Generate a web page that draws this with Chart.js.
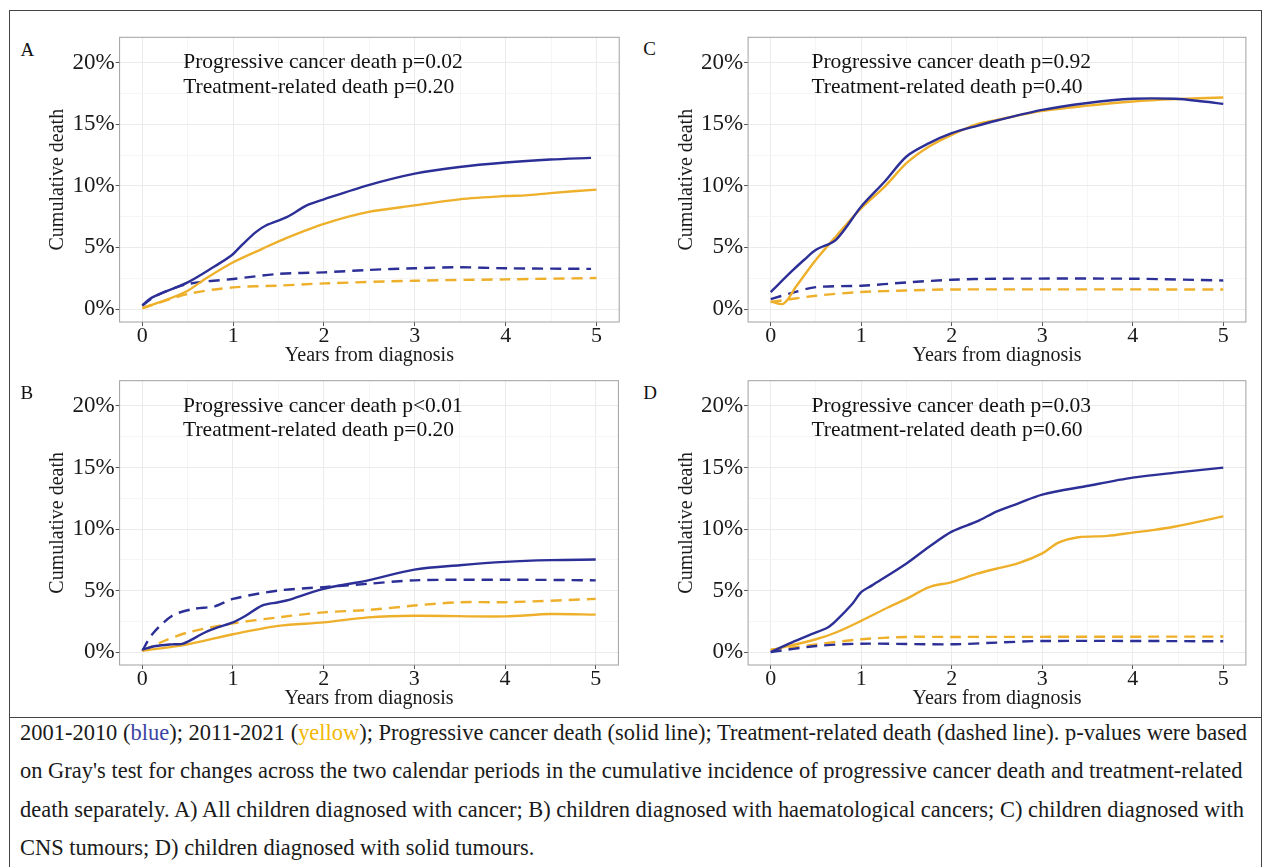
<!DOCTYPE html>
<html>
<head>
<meta charset="utf-8">
<script src="https://cdn.jsdelivr.net/npm/chart.js@4.4.1/dist/chart.umd.min.js"></script>
<style>
  body { margin: 0; background: #fff; width: 1262px; height: 867px; overflow: hidden; position: relative;
         font-family: "Liberation Serif", "Times New Roman", serif; }
  .frame { position: absolute; left: 9px; top: 10px; width: 1253px; height: 900px; border: 1px solid #444; box-sizing: border-box; }
  .sep { position: absolute; left: 9px; top: 717px; width: 1253px; height: 1px; background: #444; }
  .letter { position: absolute; font-size: 19px; line-height: 1; color: #111; }
  .cap { position: absolute; left: 20px; white-space: nowrap; color: #1a1a1a; line-height: 1; }
  canvas { position: absolute; }
</style>
</head>
<body>
<div class="frame"></div>
<div class="sep"></div>
<div id="caption"></div>
<script>
// x / y tick positions (major + ggplot-style minor)
const xTicks = [0, 0.5, 1, 1.5, 2, 2.5, 3, 3.5, 4, 4.5, 5];
const yTicks = [0, 2.5, 5, 7.5, 10, 12.5, 15, 17.5, 20];

// A) all children
const aBlueSolid = [[0,0.3],[0.11,0.95],[0.5,2.17],[0.78,3.39],[0.98,4.34],[1.09,5.15],[1.25,6.24],[1.36,6.78],[1.59,7.46],[1.81,8.41],[2.0,8.9],[2.48,10.04],[3.0,10.99],[3.49,11.53],[4.0,11.89],[4.49,12.13],[4.94,12.27]];
const aYellowSolid = [[0,0.1],[0.24,0.68],[0.5,1.49],[0.69,2.44],[1.0,3.8],[1.32,4.89],[1.59,5.78],[2.0,6.92],[2.48,7.87],[3.0,8.41],[3.49,8.9],[4.0,9.17],[4.22,9.22],[4.49,9.41],[5.0,9.69]];
const aBlueDash = [[0,0.27],[0.15,1.08],[0.5,2.03],[1.0,2.44],[1.5,2.85],[2.0,2.98],[2.48,3.17],[3.0,3.31],[3.49,3.39],[4.0,3.31],[4.94,3.26]];
const aYellowDash = [[0,0.05],[0.5,1.22],[1.0,1.76],[1.5,1.9],[2.0,2.08],[3.0,2.3],[4.0,2.41],[5.0,2.52]];

// B) haematological cancers
const bBlueSolid = [[0,0.2],[0.15,0.49],[0.33,0.63],[0.45,0.68],[0.69,1.59],[0.83,2.0],[1.0,2.41],[1.14,2.95],[1.32,3.78],[1.5,4.05],[1.59,4.19],[2.0,5.14],[2.49,5.83],[3.0,6.7],[3.5,7.06],[4.0,7.33],[4.5,7.47],[5.0,7.52]];
const bYellowSolid = [[0,0.1],[0.5,0.63],[1.0,1.45],[1.5,2.13],[2.0,2.41],[2.49,2.82],[3.0,2.95],[4.0,2.9],[4.5,3.09],[5.0,3.04]];
const bBlueDash = [[0,0.1],[0.11,1.45],[0.33,2.95],[0.56,3.5],[0.8,3.72],[1.0,4.32],[1.5,5.0],[2.0,5.28],[2.49,5.55],[3.0,5.83],[4.0,5.88],[5.0,5.83]];
const bYellowDash = [[0,0.1],[0.24,0.9],[0.5,1.59],[1.0,2.33],[1.5,2.82],[2.0,3.23],[2.49,3.42],[3.0,3.78],[3.5,4.05],[4.0,4.05],[5.0,4.32]];

// C) CNS tumours
const cBlueSolid = [[0,1.38],[0.23,3.05],[0.37,4.0],[0.5,4.81],[0.72,5.62],[1.0,8.32],[1.26,10.35],[1.5,12.38],[1.75,13.46],[2.0,14.27],[2.28,14.87],[2.5,15.3],[3.0,16.16],[3.48,16.7],[4.0,17.06],[4.47,17.06],[4.78,16.84],[5.0,16.65]];
const cYellowSolid = [[0,0.62],[0.14,0.43],[0.28,1.83],[0.5,4.0],[0.72,5.89],[1.0,8.19],[1.26,9.94],[1.5,11.84],[1.75,13.19],[2.0,14.14],[2.28,15.0],[2.5,15.35],[3.0,16.08],[3.48,16.49],[4.0,16.84],[4.47,17.03],[5.0,17.16]];
const cBlueDash = [[0,0.81],[0.23,1.3],[0.5,1.78],[1.0,1.89],[1.5,2.16],[2.0,2.38],[2.5,2.46],[4.0,2.46],[5.0,2.32]];
const cYellowDash = [[0,0.57],[0.5,1.08],[1.0,1.38],[1.5,1.51],[2.0,1.59],[5.0,1.59]];

// D) solid tumours
const dBlueSolid = [[0,0],[0.23,0.77],[0.45,1.45],[0.63,2.0],[0.72,2.54],[0.9,3.91],[1.0,4.87],[1.12,5.42],[1.5,7.2],[1.75,8.56],[2.0,9.79],[2.28,10.62],[2.5,11.44],[2.73,12.07],[3.0,12.8],[3.49,13.49],[4.0,14.17],[4.47,14.58],[5.0,14.99]];
const dYellowSolid = [[0,0.14],[0.5,1.04],[0.72,1.59],[1.0,2.54],[1.3,3.64],[1.5,4.32],[1.75,5.28],[2.0,5.69],[2.28,6.37],[2.5,6.79],[2.73,7.2],[3.0,8.02],[3.18,8.9],[3.4,9.33],[3.72,9.44],[4.0,9.71],[4.24,9.93],[4.47,10.2],[5.0,11.03]];
const dBlueDash = [[0,0],[0.5,0.49],[1.0,0.68],[2.0,0.63],[2.5,0.77],[3.0,0.9],[5.0,0.88]];
const dYellowDash = [[0,0.22],[0.23,0.36],[0.5,0.63],[1.0,1.04],[1.5,1.23],[2.0,1.23],[5.0,1.26]];

const notesA = ['Progressive cancer death p=0.02', 'Treatment-related death p=0.20'];
const notesB = ['Progressive cancer death p<0.01', 'Treatment-related death p=0.20'];
const notesC = ['Progressive cancer death p=0.92', 'Treatment-related death p=0.40'];
const notesD = ['Progressive cancer death p=0.03', 'Treatment-related death p=0.60'];
const noteX = 0.45;
const noteY = [20, 18];

const captionLines = [
  '2001-2010 (<span style="color:#3b45a3">blue</span>); 2011-2021 (<span style="color:#f2b705">yellow</span>); Progressive cancer death (solid line); Treatment-related death (dashed line). p-values were based',
  "on Gray's test for changes across the two calendar periods in the cumulative incidence of progressive cancer death and treatment-related",
  'death separately. A) All children diagnosed with cancer; B) children diagnosed with haematological cancers; C) children diagnosed with',
  'CNS tumours; D) children diagnosed with solid tumours.'
];

const BLUE = '#2c2f96';
const YELLOW = '#eeb02b';
const FONT = '"Liberation Serif", "Times New Roman", serif';

const panels = [
  {id: 'A', plot: {l: 119.6, t: 37.3, r: 619.2, b: 321.7}, letter: [20.4, 49], notes: notesA, series: [aBlueSolid, aYellowSolid, aBlueDash, aYellowDash]},
  {id: 'C', plot: {l: 748.1, t: 37.3, r: 1245.9, b: 321.3}, letter: [643.3, 48], notes: notesC, series: [cBlueSolid, cYellowSolid, cBlueDash, cYellowDash]},
  {id: 'B', plot: {l: 119.6, t: 380.7, r: 618.4, b: 664.3}, letter: [20.4, 392], notes: notesB, series: [bBlueSolid, bYellowSolid, bBlueDash, bYellowDash]},
  {id: 'D', plot: {l: 748.1, t: 380.7, r: 1245.9, b: 664.3}, letter: [643.3, 392], notes: notesD, series: [dBlueSolid, dYellowSolid, dBlueDash, dYellowDash]}
];

const framePlugin = {
  id: 'frame',
  afterDraw(chart, args, opts) {
    const {ctx, chartArea: a, scales: {x, y}} = chart;
    ctx.save();
    ctx.strokeStyle = '#a0a0a0';
    ctx.lineWidth = 1;
    ctx.strokeRect(a.left, a.top, a.right - a.left, a.bottom - a.top);
    ctx.fillStyle = '#111';
    ctx.font = '21.5px ' + FONT;
    ctx.textBaseline = 'middle';
    ctx.textAlign = 'left';
    opts.notes.forEach((t, i) => ctx.fillText(t, x.getPixelForValue(noteX), y.getPixelForValue(noteY[i])));
    ctx.restore();
  }
};

const lineDs = (pts, color, dashed) => ({
  data: pts.map(p => ({x: p[0], y: p[1]})),
  borderColor: color,
  borderWidth: 2.4,
  borderDash: dashed ? [11, 7] : [],
  pointRadius: 0,
  tension: 0.3,
  fill: false
});

panels.forEach(p => {
  const left = Math.round(p.plot.l - 73.6);
  const top = Math.round(p.plot.t - 27);
  const yW = p.plot.l - left;
  const xH = 46;
  const width = Math.ceil(p.plot.r + 8 - left);
  const height = Math.ceil(p.plot.b + xH - top);

  const cv = document.createElement('canvas');
  cv.width = width;
  cv.height = height;
  cv.style.left = left + 'px';
  cv.style.top = top + 'px';
  document.body.appendChild(cv);

  const lt = document.createElement('div');
  lt.className = 'letter';
  lt.textContent = p.id;
  lt.style.left = p.letter[0] + 'px';
  lt.style.top = (p.letter[1] - 9.5) + 'px';
  document.body.appendChild(lt);

  new Chart(cv.getContext('2d'), {
    type: 'line',
    data: {
      datasets: [
        lineDs(p.series[0], BLUE, false),
        lineDs(p.series[1], YELLOW, false),
        lineDs(p.series[2], BLUE, true),
        lineDs(p.series[3], YELLOW, true)
      ]
    },
    options: {
      responsive: false,
      animation: false,
      layout: {padding: {left: 0, top: p.plot.t - top, right: left + width - p.plot.r, bottom: 0}},
      plugins: {legend: {display: false}, tooltip: {enabled: false}, frame: {notes: p.notes}},
      scales: {
        x: {
          type: 'linear', min: -0.25, max: 5.25,
          afterBuildTicks: s => { s.ticks = xTicks.map(v => ({value: v})); },
          afterFit: s => { s.height = xH; },
          border: {display: false},
          grid: {
            color: c => (c.tick && c.tick.value % 1 === 0) ? '#ebebeb' : '#f5f5f5',
            tickColor: c => (c.tick && c.tick.value % 1 === 0) ? '#555' : 'rgba(0,0,0,0)',
            tickLength: 4
          },
          ticks: {
            autoSkip: false, maxRotation: 0, padding: -1, color: '#1a1a1a',
            font: {family: FONT, size: 22, lineHeight: 1},
            callback: v => v % 1 === 0 ? String(v) : ''
          },
          title: {display: true, text: 'Years from diagnosis', color: '#1a1a1a', padding: 0,
                  font: {family: FONT, size: 20, lineHeight: 1.2}}
        },
        y: {
          type: 'linear', min: -1.05, max: 22.05,
          afterBuildTicks: s => { s.ticks = yTicks.map(v => ({value: v})); },
          afterFit: s => { s.width = yW; },
          border: {display: false},
          grid: {
            color: c => (c.tick && c.tick.value % 5 === 0) ? '#ebebeb' : '#f5f5f5',
            tickColor: c => (c.tick && c.tick.value % 5 === 0) ? '#555' : 'rgba(0,0,0,0)',
            tickLength: 4
          },
          ticks: {
            autoSkip: false, padding: 1, color: '#1a1a1a',
            font: {family: FONT, size: 23, lineHeight: 1.2},
            callback: v => v % 5 === 0 ? v + '%' : ''
          },
          title: {display: true, text: 'Cumulative death', color: '#1a1a1a', padding: 0,
                  font: {family: FONT, size: 20, lineHeight: 1.2}}
        }
      }
    },
    plugins: [framePlugin]
  });
});

// caption: size the font so the first line spans the same width as the figure caption
const mctx = document.createElement('canvas').getContext('2d');
mctx.font = '20px ' + FONT;
const plain = captionLines[0].replace(/<[^>]+>/g, '');
const capSize = 20 * 1228 / mctx.measureText(plain).width;
const capCenters = [733, 771.5, 810, 848.5];
const capBox = document.getElementById('caption');
captionLines.forEach((html, i) => {
  const d = document.createElement('div');
  d.className = 'cap';
  d.style.fontSize = capSize + 'px';
  d.style.top = (capCenters[i] - capSize * 0.5) + 'px';
  d.innerHTML = html;
  capBox.appendChild(d);
});
</script>
</body>
</html>
